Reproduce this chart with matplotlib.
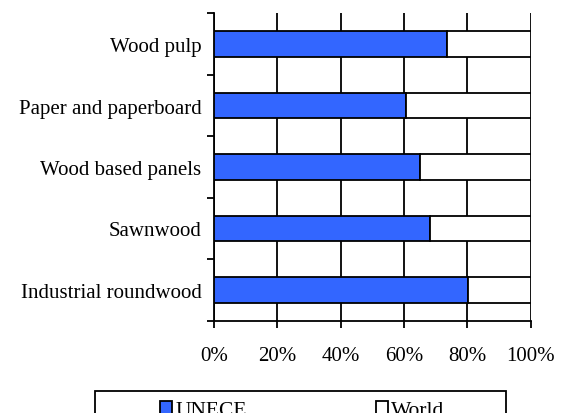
import matplotlib.pyplot as plt
from matplotlib.patches import Rectangle
from matplotlib.ticker import FixedLocator

# share of world production (%), listed bottom to top
products = ['Industrial roundwood', 'Sawnwood', 'Wood based panels',
            'Paper and paperboard', 'Wood pulp']
unece_share = [80.3, 68.3, 65.0, 60.6, 73.5]
world_rest = [100 - v for v in unece_share]
series_names = ['UNECE', 'World']
x_ticks = [0, 20, 40, 60, 80, 100]
x_labels = ['0%', '20%', '40%', '60%', '80%', '100%']

plt.rcParams['font.family'] = ['Liberation Serif', 'DejaVu Serif']
FS = 15
BLUE = '#3366FF'

fig = plt.figure(figsize=(5.64, 4.14), dpi=100)
ax = fig.add_axes([214 / 564, 1 - 321.7 / 414, 316.7 / 564, 307.4 / 414])

ypos = list(range(len(products)))
ax.barh(ypos, unece_share, height=0.42, color=BLUE, edgecolor='black',
        linewidth=1.3, label=series_names[0], zorder=3)
ax.barh(ypos, world_rest, left=unece_share, height=0.42, color='white',
        edgecolor='black', linewidth=1.3, label=series_names[1], zorder=3)

ax.set_xlim(0, 100)
ax.set_ylim(-0.5, len(products) - 0.5)
ax.set_xticks(x_ticks)
ax.set_xticklabels(x_labels, fontsize=FS)
ax.set_yticks(ypos)
ax.set_yticklabels(products, fontsize=FS)
ax.yaxis.set_minor_locator(FixedLocator([i - 0.5 for i in range(len(products) + 1)]))

ax.tick_params(axis='y', which='major', length=0, pad=9)
ax.tick_params(axis='y', which='minor', length=5, width=1.3, direction='out')
ax.tick_params(axis='x', length=5, width=1.3, direction='out', pad=13)

ax.grid(axis='x', color='black', linewidth=1.3, zorder=1)
for side in ['top', 'right']:
    ax.spines[side].set_visible(False)
for side in ['left', 'bottom']:
    ax.spines[side].set_linewidth(1.3)

# legend box runs off the bottom edge
fig.patches.append(Rectangle((95 / 564, -0.1), 411.5 / 564, 0.1 + 1 - 392 / 414,
                             transform=fig.transFigure, fill=False,
                             edgecolor='black', linewidth=1.3))
handles, labels = ax.get_legend_handles_labels()
fig.legend(handles, labels, loc='upper left', ncol=2,
           bbox_to_anchor=(160 / 564, 1 - 402 / 414), frameon=False,
           fontsize=15.5, borderpad=0, borderaxespad=0, handlelength=0.55,
           handleheight=0.55, handletextpad=0.15, columnspacing=6.0)

fig.savefig('out.png', dpi=100)
